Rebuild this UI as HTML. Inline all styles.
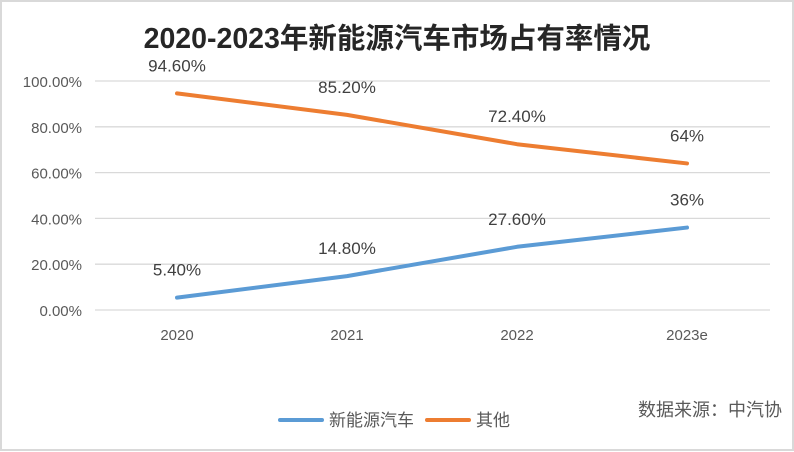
<!DOCTYPE html>
<html><head><meta charset="utf-8"><style>
body{margin:0;background:#fff}
svg{display:block;font-family:"Liberation Sans","Noto Sans CJK SC",sans-serif}
</style></head><body>
<svg width="794" height="452">
<rect x="1" y="1" width="792" height="449" fill="#fff" stroke="#d9d9d9" stroke-width="2"/>
<text x="397" y="48" text-anchor="middle" font-size="28.5" font-weight="bold" fill="#262626">2020-2023年新能源汽车市场占有率情况</text>
<g id="grid"></g><g id="series"></g>
<g>
<line x1="280" y1="420" x2="322" y2="420" stroke="#5b9bd5" stroke-width="4" stroke-linecap="round"/>
<text x="329" y="426" font-size="17" fill="#595959">新能源汽车</text>
<line x1="427" y1="420" x2="469" y2="420" stroke="#ed7d31" stroke-width="4" stroke-linecap="round"/>
<text x="476" y="426" font-size="17" fill="#595959">其他</text>
</g>
<text x="782" y="416" text-anchor="end" font-size="18" fill="#595959">数据来源：中汽协</text>
</svg>
<script>
const categories=["2020","2021","2022","2023e"];
const nevValues=[5.4,14.8,27.6,36];
const otherValues=[94.6,85.2,72.4,64];
const nevLabels=["5.40%","14.80%","27.60%","36%"];
const otherLabels=["94.60%","85.20%","72.40%","64%"];
const yTicks=[0,20,40,60,80,100];
const ns="http://www.w3.org/2000/svg";
const x0=92,x1=772,yTop=81,yBot=310;
const x=i=>x0+(x1-x0)/categories.length*(i+0.5);
const y=v=>yBot-(yBot-yTop)*v/100;
function mk(t,a,p){const e=document.createElementNS(ns,t);for(const k in a)e.setAttribute(k,a[k]);p.appendChild(e);return e;}
const g=document.getElementById('grid'),s=document.getElementById('series');
yTicks.forEach(v=>{
 const l=mk('line',{x1:95,x2:770,y1:y(v),y2:y(v),stroke:'#d9d9d9','stroke-width':1.3},g);
 
 
 const t=mk('text',{x:82,y:y(v)+6,'text-anchor':'end','font-size':15,fill:'#595959'},g);
 t.textContent=v.toFixed(2)+'%';
 
 
});
categories.forEach((c,i)=>{
 const t=mk('text',{x:x(i),y:340,'text-anchor':'middle','font-size':15,fill:'#595959'},g);
 t.textContent=c;
 
 
});
function line(vals,labels,color,name){
 const p=mk('polyline',{points:vals.map((v,i)=>x(i)+','+y(v)).join(' '),fill:'none',stroke:color,'stroke-width':4,'stroke-linecap':'round','stroke-linejoin':'round'},s);
 
 
 vals.forEach((v,i)=>{
  const t=mk('text',{x:x(i),y:y(v)-22,'text-anchor':'middle','font-size':17,fill:'#404040'},s);
  t.textContent=labels[i];
  
  
 });
}
line(nevValues,nevLabels,'#5b9bd5','nev');
line(otherValues,otherLabels,'#ed7d31','other');
</script>
</body></html>
